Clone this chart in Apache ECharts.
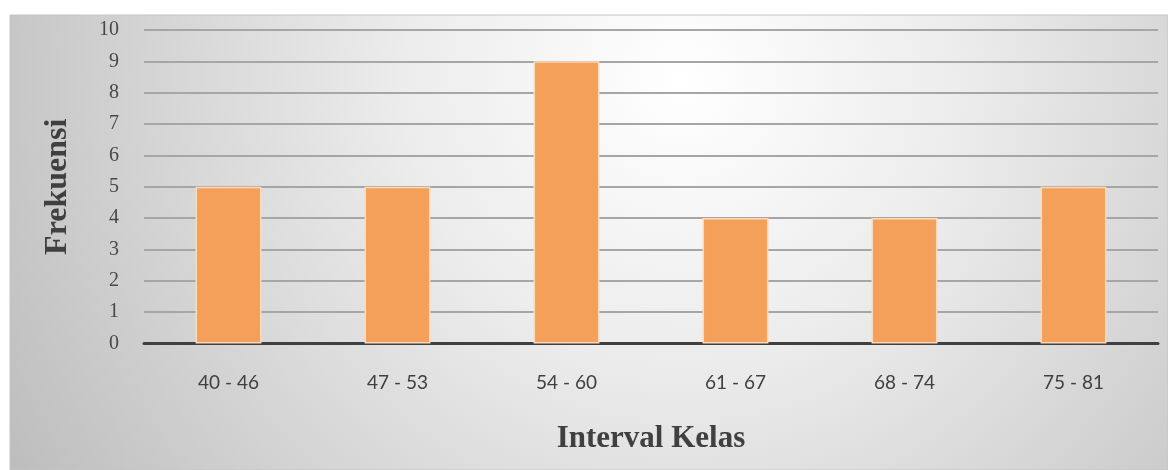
<!DOCTYPE html>
<html>
<head>
<meta charset="utf-8">
<script src="https://cdn.jsdelivr.net/npm/echarts@6/dist/echarts.min.js"></script>
<style>
  html, body { margin: 0; padding: 0; background: #ffffff; }
  #chart { width: 1168px; height: 470px; }
</style>
</head>
<body>
<div id="chart"></div>
<script>
// Frequency distribution of class intervals
const categories = ['40 - 46', '47 - 53', '54 - 60', '61 - 67', '68 - 74', '75 - 81'];
const frequencies = [5, 5, 9, 4, 4, 5];
const yTicks = { min: 0, max: 10, interval: 1 };

const chart = echarts.init(document.getElementById('chart'), null, { renderer: 'canvas' });

chart.setOption({
  animation: false,
  graphic: [
    {
      type: 'rect',
      z: -10,
      shape: { x: 10, y: 15, width: 1158, height: 455 },
      style: {
        fill: {
          type: 'radial', x: 0.58, y: 0.15, r: 1.75,
          colorStops: [
            { offset: 0, color: '#ffffff' },
            { offset: 0.35, color: '#ececec' },
            { offset: 1, color: '#bbbbbb' }
          ]
        },
        stroke: '#c4c4c4',
        lineWidth: 1
      }
    }
  ],
  grid: { left: 144, right: 10, top: 30, bottom: 126.5, containLabel: false },
  xAxis: {
    type: 'category',
    data: categories,
    axisTick: { show: false },
    axisLine: { show: true, lineStyle: { color: '#404040', width: 3 } },
    axisLabel: { margin: 30, color: '#404040', fontFamily: 'Lato', fontSize: 19 },
    name: 'Interval Kelas',
    nameLocation: 'middle',
    nameGap: 80,
    nameTextStyle: { fontFamily: 'Liberation Serif', fontWeight: 'bold', fontSize: 31, color: '#404040' }
  },
  yAxis: {
    type: 'value',
    min: yTicks.min,
    max: yTicks.max,
    interval: yTicks.interval,
    axisLine: { show: false },
    axisTick: { show: false },
    splitLine: { lineStyle: { color: '#a6a6a6', width: 2 } },
    axisLabel: { margin: 25, color: '#484848', fontFamily: 'Liberation Serif', fontSize: 20 },
    name: 'Frekuensi',
    nameLocation: 'middle',
    nameGap: 70,
    nameRotate: 90,
    nameTextStyle: { fontFamily: 'Liberation Serif', fontWeight: 'bold', fontSize: 32, color: '#404040' }
  },
  series: [
    {
      type: 'bar',
      data: frequencies,
      barCategoryGap: '61%',
      itemStyle: { color: '#f4a05a', borderColor: '#fbd9bb', borderWidth: 1.5 }
    }
  ]
});
</script>
</body>
</html>
